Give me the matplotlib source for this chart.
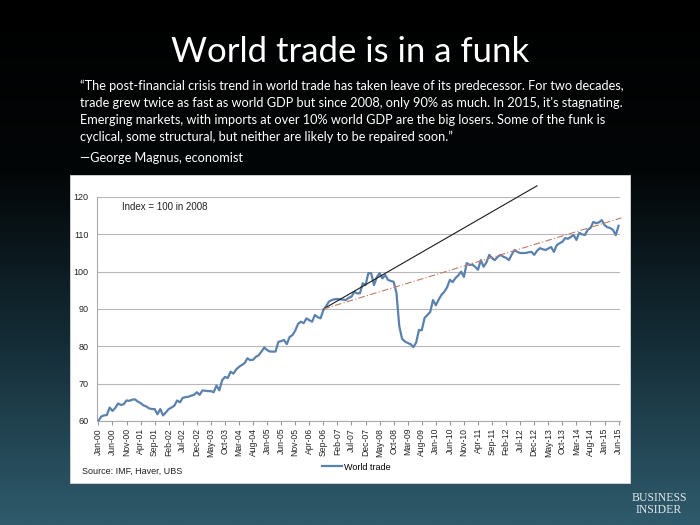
import numpy as np
import pandas as pd
import matplotlib
matplotlib.use("Agg")
from matplotlib import pyplot as plt
from matplotlib.patches import Rectangle
from matplotlib.colors import LinearSegmentedColormap

# monthly world trade index, Jan-00 .. Jun-15 (index = 100 in 2008)
world_trade = [
    60.0, 61.2, 61.5, 61.6, 63.6, 62.7, 63.5, 64.7, 64.3, 64.5, 65.5, 65.4,   # 2000
    65.7, 65.8, 65.2, 64.8, 64.2, 63.9, 63.4, 63.2, 63.2, 61.8, 63.2, 61.5,   # 2001
    62.3, 63.2, 63.6, 64.1, 65.5, 65.0, 66.2, 66.4, 66.5, 66.8, 67.0, 67.7,   # 2002
    67.0, 68.2, 68.1, 68.0, 68.0, 67.7, 69.5, 68.2, 70.9, 71.8, 71.5, 73.2,   # 2003
    72.7, 73.8, 74.5, 75.0, 75.5, 76.8, 76.3, 76.4, 77.2, 77.6, 78.6, 79.7,   # 2004
    79.0, 78.6, 78.6, 78.6, 81.2, 81.4, 81.7, 80.6, 82.5, 83.0, 84.2, 86.0,   # 2005
    86.6, 86.2, 87.5, 87.0, 86.6, 88.4, 87.8, 87.5, 89.7, 90.8, 92.0, 92.4,   # 2006
    92.6, 92.7, 92.6, 92.5, 92.4, 93.0, 93.3, 94.6, 94.2, 94.2, 96.9, 96.4,   # 2007
    99.6, 99.6, 96.4, 98.5, 99.6, 98.2, 99.1, 97.8, 97.5, 97.3, 94.3, 85.4,   # 2008
    82.0, 81.3, 80.9, 80.6, 79.8, 81.0, 84.4, 84.3, 87.6, 88.4, 89.2, 92.4,   # 2009
    91.0, 92.5, 93.8, 94.6, 95.8, 97.8, 97.2, 98.3, 99.0, 100.0, 98.6, 102.3,  # 2010
    101.8, 101.9, 101.3, 100.5, 103.1, 101.3, 102.5, 104.5, 103.6, 103.1, 104.0, 104.5,  # 2011
    104.0, 103.7, 103.1, 104.6, 105.8, 105.3, 105.0, 105.0, 105.0, 105.2, 105.3, 104.5,  # 2012
    105.6, 106.3, 106.0, 105.8, 106.2, 106.6, 105.3, 107.1, 107.6, 108.0, 109.0, 108.8,  # 2013
    109.3, 109.8, 108.5, 110.4, 110.0, 109.8, 111.2, 111.7, 113.3, 113.0, 113.2, 113.8,  # 2014
    112.5, 111.9, 111.7, 111.2, 109.8, 112.3,                                   # 2015
]
months = pd.date_range("2000-01-01", periods=len(world_trade), freq="MS")

# hand-drawn trend lines (start / end month, value)
pre_crisis_months = ["2006-09", "2013-01"]
pre_crisis_vals = [90.0, 123.0]
post_crisis_months = ["2006-09", "2015-07"]
post_crisis_vals = [90.0, 114.4]

yticks = [60, 70, 80, 90, 100, 110, 120]

title = "World trade is in a funk"
quote = ("\u201cThe post-financial crisis trend in world trade has taken leave of its predecessor. For two decades,\n"
         "trade grew twice as fast as world GDP but since 2008, only 90% as much. In 2015, it's stagnating.\n"
         "Emerging markets, with imports at over 10% world GDP are the big losers. Some of the funk is\n"
         "cyclical, some structural, but neither are likely to be repaired soon.\u201d")
attribution = "\u2014George Magnus, economist"

W, H = 700, 525
fig = plt.figure(figsize=(7, 5.25), dpi=100)

# slide background gradient
bg = fig.add_axes([0, 0, 1, 1], zorder=0)
cmap = LinearSegmentedColormap.from_list(
    "slide", [(0, "#000000"), (0.33, "#030607"), (0.65, "#142c36"), (1, "#2f5b6c")])
bg.imshow(np.linspace(0, 1, 256).reshape(-1, 1), aspect="auto", cmap=cmap,
          extent=[0, 1, 0, 1], origin="upper")
bg.set_xlim(0, 1)
bg.set_ylim(0, 1)
bg.axis("off")

def fx(px):
    return px / W

def fy(py):
    return 1 - py / H

# white chart box
bg.add_patch(Rectangle((fx(70), fy(483)), fx(560), 308 / H, transform=bg.transAxes,
                       facecolor="white", edgecolor="#d8d8d8", lw=0.6, zorder=2))

fig.text(0.5, fy(52), title, ha="center", va="center", color="white",
         fontsize=25, family="Lato")
fig.text(fx(80), fy(80), quote, ha="left", va="top", color="white",
         fontsize=9.15, family="Lato", linespacing=1.48)
fig.text(fx(80), fy(158), attribution, ha="left", va="center", color="white",
         fontsize=9.15, family="Lato")
fig.text(fx(659), fy(498), "BUSINESS", ha="center", va="center", color="#dfe6e8",
         fontsize=8.5, family="Liberation Serif")
fig.text(fx(659), fy(510), "INSIDER", ha="center", va="center", color="#dfe6e8",
         fontsize=8.5, family="Liberation Serif")

ax = fig.add_axes([fx(97), fy(421), fx(523), 224 / H], zorder=3)
ax.set_facecolor("none")
x = np.arange(len(world_trade))
line, = ax.plot(x, world_trade, color="#5b81ae", lw=1.6, zorder=3)

def month_pos(m):
    return (pd.Period(m, "M") - pd.Period("2000-01", "M")).n

ax.plot([month_pos(m) for m in pre_crisis_months], pre_crisis_vals,
        color="#1a1a1a", lw=0.8, zorder=4, clip_on=False)
ax.plot([month_pos(m) for m in post_crisis_months], post_crisis_vals,
        color="#c07a68", lw=0.8, ls=(0, (6, 2, 1, 2)), zorder=4, clip_on=False)

ax.set_ylim(60, 120)
ax.set_xlim(-0.5, len(world_trade) - 0.5)
ax.set_yticks(yticks)
ax.yaxis.grid(True, color="#b8b8b8", lw=0.8)
ax.set_axisbelow(True)
ax.tick_params(axis="y", length=0, labelsize=6.5, labelcolor="#222222", pad=6)
tick_idx = np.arange(0, len(world_trade), 5)
ax.set_xticks(tick_idx)
ax.set_xticklabels([months[i].strftime("%b-%y") for i in tick_idx], rotation=90,
                   fontsize=6.2, color="#222222")
ax.tick_params(axis="x", length=3, color="#999999", pad=2)
for s in ["top", "right"]:
    ax.spines[s].set_visible(False)
ax.spines["left"].set_color("#aaaaaa")
ax.spines["bottom"].set_color("#aaaaaa")
for lab in ax.get_yticklabels():
    lab.set_family("Liberation Sans")
for lab in ax.get_xticklabels():
    lab.set_family("Liberation Sans")

ax.text(0.048, 0.955, "Index = 100 in 2008", transform=ax.transAxes, fontsize=7,
        family="Liberation Sans", color="#222222", va="center")
fig.text(fx(82), fy(471), "Source: IMF, Haver, UBS", fontsize=6.5,
         family="Liberation Sans", color="#222222", va="center", zorder=5)
leg = fig.legend([line], ["World trade"], loc="center left", bbox_to_anchor=(fx(314), fy(467)),
                 frameon=False, handlelength=2.2, handletextpad=0.2,
                 prop={"family": "Liberation Sans", "size": 6.5})
leg.set_zorder(5)

fig.savefig("out.png", dpi=100)
